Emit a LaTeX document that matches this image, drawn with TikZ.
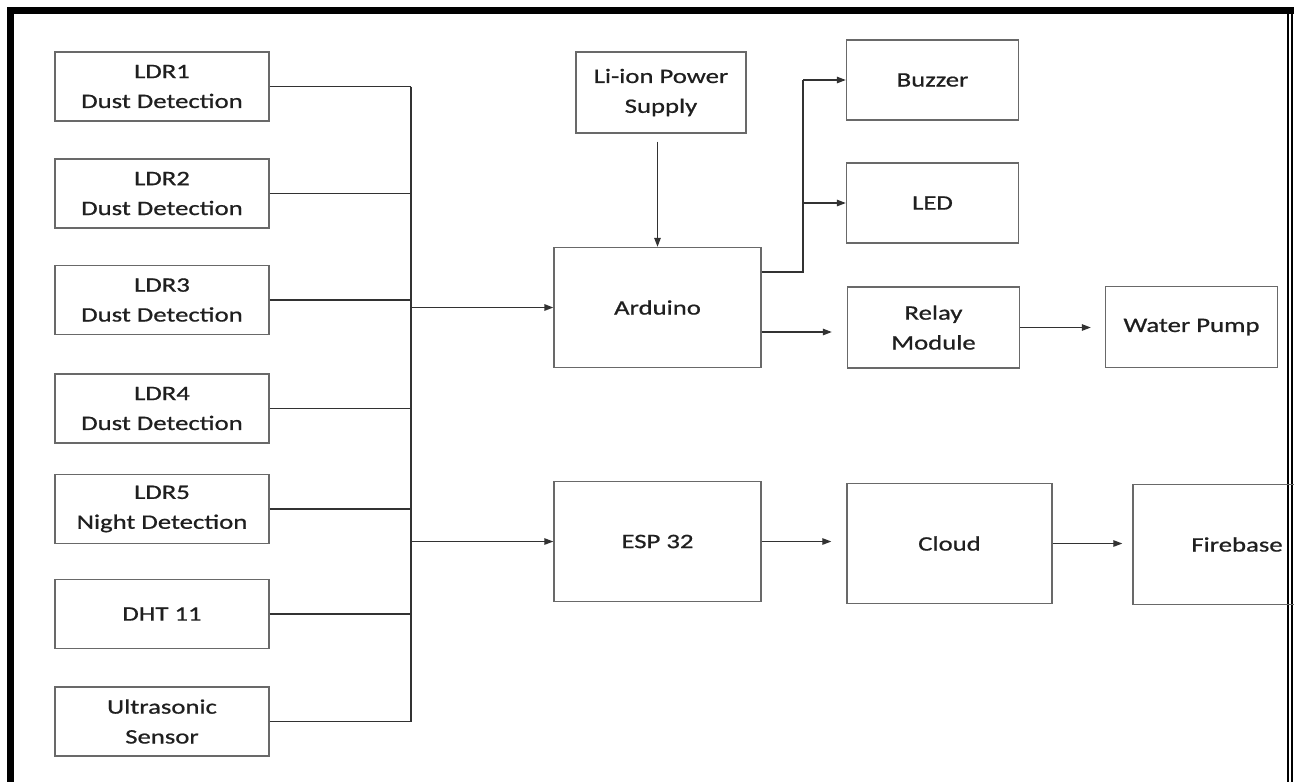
\documentclass[tikz,border=0pt]{standalone}
\usepackage{fontspec}
\setmainfont{Carlito}[FakeStretch=1.3,FakeBold=0.8]
\usepackage{xcolor}
\usetikzlibrary{arrows.meta}
\definecolor{boxgray}{RGB}{105,105,105}
\definecolor{wiregray}{RGB}{50,50,50}

\begin{document}
\begin{tikzpicture}[x=0.02cm,y=-0.02cm,
    blk/.style={draw=boxgray,line width=0.8pt,rectangle,inner sep=0pt,align=center,
        font=\fontsize{11.7}{17}\selectfont,text=black!88},
    sensor/.style={blk,minimum width=4.28cm,minimum height=1.38cm},
    ctrl/.style={blk,minimum width=4.14cm,minimum height=2.4cm},
    outbox/.style={blk,minimum width=3.44cm,minimum height=1.62cm},
    wire/.style={draw=wiregray,line width=0.7pt},
    arr/.style={wire,-{Triangle[length=1.8mm,width=1.3mm]}}]
        \useasboundingbox (0,0) rectangle (1294,782);
        \clip (0,0) rectangle (1294,782);
        % frame
        \fill[black] (7,7) rectangle (1294,14);
        \fill[black] (7,7) rectangle (14,782);
        \draw[black,line width=0.8pt] (1288,7)--(1288,782);
        \draw[black,line width=0.8pt] (1292,7)--(1292,782);
        % sensors
        \node[sensor] (ldr1) at (162,86.5) {LDR1\\Dust Detection};
        \node[sensor] (ldr2) at (162,193.5) {LDR2\\Dust Detection};
        \node[sensor] (ldr3) at (162,300) {LDR3\\Dust Detection};
        \node[sensor] (ldr4) at (162,408.5) {LDR4\\Dust Detection};
        \node[sensor] (ldr5) at (162,509) {LDR5\\Night Detection};
        \node[sensor] (dht) at (162,614) {DHT 11};
        \node[sensor] (ultra) at (162,721.5) {Ultrasonic\\Sensor};
        % controllers
        \node[outbox,minimum width=3.4cm] (power) at (661,92.5) {Li-ion Power\\Supply};
        \node[ctrl] (ard) at (657.5,307.5) {Arduino};
        \node[ctrl] (esp) at (657.5,541.5) {ESP 32};
        % outputs
        \node[outbox,minimum height=1.6cm] (buzz) at (932.5,80) {Buzzer};
        \node[outbox,minimum height=1.6cm] (led) at (932.5,203) {LED};
        \node[outbox] (relay) at (933.5,327.5) {Relay\\Module};
        \node[outbox] (pump) at (1191.5,327) {Water Pump};
        \node[ctrl,minimum width=4.1cm] (cloud) at (949.5,543.5) {Cloud};
        \node[ctrl,minimum width=4.16cm] (fire) at (1237,544.5) {Firebase};
        % sensor bus
        \coordinate (bus) at (411,0);
        \foreach \s in {ldr1,ldr2,ldr3,ldr4,ldr5,dht,ultra}
            \draw[wire] (\s.east) -- (\s.east -| bus);
        \draw[wire] (ldr1.east -| bus) -- (ultra.east -| bus);
        \draw[arr,line width=0.9pt] (ard.west -| bus) -- (ard.west);
        \draw[arr] (esp.west -| bus) -- (esp.west);
        % power
        \draw[arr,shorten <=0.16cm] (power.south -| ard.north) -- (ard.north);
        % arduino outputs
        \coordinate (split) at (803,272);
        \draw[wire] (ard.east |- split) -- (split) -- (split |- buzz.west);
        \draw[arr] (split |- buzz.west) -- (buzz.west);
        \draw[arr] (split |- led.west) -- (led.west);
        \draw[arr,shorten >=0.3cm] ([yshift=-0.09cm]ard.east |- relay.west) -- ([yshift=-0.09cm]relay.west);
        \draw[arr,shorten >=0.28cm] (relay.east) -- (relay.east -| pump.west);
        % esp outputs
        \draw[arr,shorten >=0.3cm] (esp.east) -- (esp.east -| cloud.west);
        \draw[arr,shorten >=0.2cm] (cloud.east) -- (cloud.east -| fire.west);
    \end{tikzpicture}
\end{document}
